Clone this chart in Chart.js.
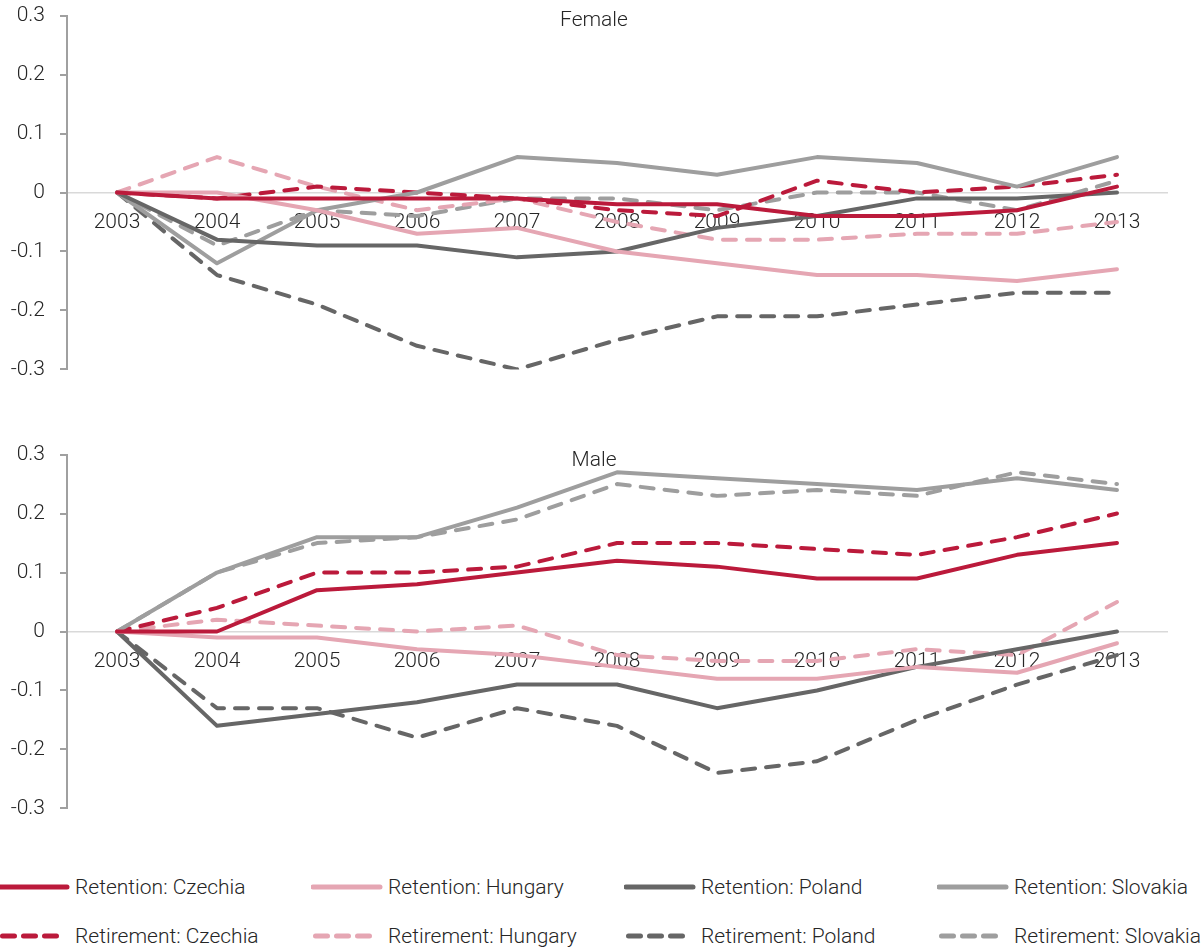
<!DOCTYPE html>
<html>
<head>
<meta charset="utf-8">
<script src="https://cdn.jsdelivr.net/npm/chart.js@4"></script>
<style>
  body { margin: 0; background: #fff; font-family: Roboto, sans-serif; }
  #wrap { position: relative; width: 1203px; height: 951px; overflow: hidden; }
  .box { position: absolute; left: 0; width: 1203px; height: 409px; }
  .title { position: absolute; left: 0; width: 1188px; text-align: center; font-size: 21px; color: #262626; font-weight: 300; }
  .leg { position: absolute; font-size: 21px; color: #262626; font-weight: 300; white-space: nowrap; }
  .leg svg { position: absolute; left: 0; top: 0; }
  .leg span { position: absolute; top: 0; line-height: 24px; }
</style>
</head>
<body>
<div id="wrap">
  <div class="box" style="top:-12px"><canvas id="female"></canvas></div>
  <div class="box" style="top:427px"><canvas id="male"></canvas></div>
  <div class="title" style="top:7px">Female</div>
  <div class="title" style="top:447px">Male</div>
  <div id="legend"></div>
</div>
<script>
// ====== Data ======
const years = ["2003", "2004", "2005", "2006", "2007", "2008", "2009", "2010", "2011", "2012", "2013"];

// Female
const fRetCZ = [0, -0.01, -0.01, -0.01, -0.01, -0.02, -0.02, -0.04, -0.04, -0.03, 0.01];
const fRetHU = [0, 0, -0.03, -0.07, -0.06, -0.10, -0.12, -0.14, -0.14, -0.15, -0.13];
const fRetPL = [0, -0.08, -0.09, -0.09, -0.11, -0.10, -0.06, -0.04, -0.01, -0.01, 0];
const fRetSK = [0, -0.12, -0.03, 0, 0.06, 0.05, 0.03, 0.06, 0.05, 0.01, 0.06];
const fRirCZ = [0, -0.01, 0.01, 0, -0.01, -0.03, -0.04, 0.02, 0, 0.01, 0.03];
const fRirHU = [0, 0.06, 0.01, -0.03, -0.01, -0.05, -0.08, -0.08, -0.07, -0.07, -0.05];
const fRirPL = [0, -0.14, -0.19, -0.26, -0.30, -0.25, -0.21, -0.21, -0.19, -0.17, -0.17];
const fRirSK = [0, -0.09, -0.03, -0.04, -0.01, -0.01, -0.03, 0, 0, -0.03, 0.02];

// Male
const mRetCZ = [0, 0, 0.07, 0.08, 0.10, 0.12, 0.11, 0.09, 0.09, 0.13, 0.15];
const mRetHU = [0, -0.01, -0.01, -0.03, -0.04, -0.06, -0.08, -0.08, -0.06, -0.07, -0.02];
const mRetPL = [0, -0.16, -0.14, -0.12, -0.09, -0.09, -0.13, -0.10, -0.06, -0.03, 0];
const mRetSK = [0, 0.10, 0.16, 0.16, 0.21, 0.27, 0.26, 0.25, 0.24, 0.26, 0.24];
const mRirCZ = [0, 0.04, 0.10, 0.10, 0.11, 0.15, 0.15, 0.14, 0.13, 0.16, 0.20];
const mRirHU = [0, 0.02, 0.01, 0, 0.01, -0.04, -0.05, -0.05, -0.03, -0.04, 0.05];
const mRirPL = [0, -0.13, -0.13, -0.18, -0.13, -0.16, -0.24, -0.22, -0.15, -0.09, -0.04];
const mRirSK = [0, 0.10, 0.15, 0.16, 0.19, 0.25, 0.23, 0.24, 0.23, 0.27, 0.25];

const seriesNames = [
  "Retention: Czechia", "Retention: Hungary", "Retention: Poland", "Retention: Slovakia",
  "Retirement: Czechia", "Retirement: Hungary", "Retirement: Poland", "Retirement: Slovakia"
];
const colors = ["#bb1a3b", "#e5a6b3", "#666666", "#9e9e9e"];
const dash = [13, 11];

// ====== Charts ======
function makeDatasets(values) {
  return values.map((data, i) => ({
    label: seriesNames[i],
    data: data,
    borderColor: colors[i % 4],
    borderWidth: 4,
    borderDash: i < 4 ? [] : dash,
    borderCapStyle: "round",
    borderJoinStyle: "round",
    pointRadius: 0,
    fill: false,
    tension: 0
  }));
}

function makeChart(id, values) {
  const ctx = document.getElementById(id).getContext("2d");
  return new Chart(ctx, {
    type: "line",
    data: { labels: years, datasets: makeDatasets(values) },
    options: {
      responsive: true,
      maintainAspectRatio: false,
      animation: false,
      events: [],
      layout: { padding: { top: 3, bottom: 2, left: 0, right: 36 } },
      plugins: { legend: { display: false }, tooltip: { enabled: false } },
      scales: {
        x: {
          type: "category",
          offset: true,
          position: { y: 0 },
          grid: { display: false, drawTicks: true, tickLength: 8 },
          border: { display: true, color: "#d9d9d9", width: 1.5 },
          ticks: {
            color: "#262626",
            padding: 10,
            maxRotation: 0,
            autoSkip: false,
            font: { family: "Roboto", size: 21, weight: 300 }
          }
        },
        y: {
          min: -0.3,
          max: 0.3,
          afterFit: (scale) => { scale.width = 67; },
          grid: { display: true, drawOnChartArea: false, drawTicks: true, tickLength: 7, color: "#a0a0a0", lineWidth: 2 },
          border: { display: true, color: "#a0a0a0", width: 2 },
          ticks: {
            stepSize: 0.1,
            color: "#262626",
            padding: 15,
            font: { family: "Roboto", size: 21, weight: 300 },
            callback: (v) => (Math.abs(v) < 1e-9 ? "0" : v.toFixed(1))
          }
        }
      }
    }
  });
}

makeChart("female", [fRetCZ, fRetHU, fRetPL, fRetSK, fRirCZ, fRirHU, fRirPL, fRirSK]);
makeChart("male", [mRetCZ, mRetHU, mRetPL, mRetSK, mRirCZ, mRirHU, mRirPL, mRirSK]);

// ====== Legend ======
const legend = document.getElementById("legend");
seriesNames.forEach((name, i) => {
  const col = i % 4;
  const row = Math.floor(i / 4);
  const item = document.createElement("div");
  item.className = "leg";
  item.style.left = (-2 + col * 313) + "px";
  item.style.top = (875 + row * 49) + "px";
  const dashed = i >= 4;
  item.innerHTML =
    '<svg width="80" height="24"><line x1="' + (dashed ? 4.5 : 2) + '" y1="12" x2="' + (dashed ? 63 : 69) +
    '" y2="12" stroke="' + colors[col] + '" stroke-width="5" stroke-linecap="round"' +
    (dashed ? ' stroke-dasharray="12 9"' : "") + '/></svg>' +
    '<span style="left:77px">' + name + "</span>";
  legend.appendChild(item);
});
</script>
</body>
</html>
